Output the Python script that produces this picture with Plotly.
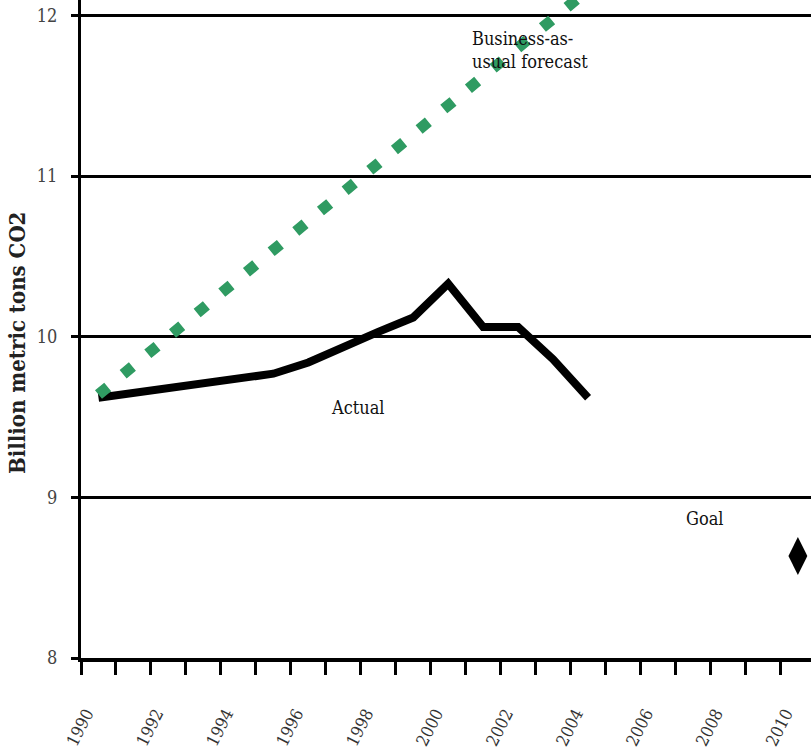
import plotly.graph_objects as go

# ---- data ----
actual_years = [1990, 1991, 1992, 1993, 1994, 1995, 1996, 1997, 1998, 1999,
                2000, 2001, 2002, 2003, 2004]
actual_values = [9.62, 9.65, 9.67, 9.71, 9.73, 9.77, 9.84, 9.94, 10.03, 10.12,
                 10.33, 10.06, 10.06, 9.86, 9.62]

forecast_years = [1990, 1991, 1992, 1993, 1994, 1995, 1996, 1997, 1998, 1999,
                  2000, 2001, 2002, 2003, 2004]
forecast_values = [9.64, 9.82, 10.00, 10.18, 10.36, 10.54, 10.72, 10.90, 11.08,
                   11.26, 11.44, 11.62, 11.80, 11.98, 12.16]

goal_years = [2010]
goal_values = [8.635]

x_tick_labels = ["1990", "1992", "1994", "1996", "1998", "2000",
                 "2002", "2004", "2006", "2008", "2010"]
x_tick_vals = [int(s) for s in x_tick_labels]
y_tick_vals = [8, 9, 10, 11, 12]

SERIF = "DejaVu Serif Condensed, Liberation Serif, serif"
GREEN = "#2f9b62"

fig = go.Figure()

fig.add_trace(go.Scatter(
    x=actual_years, y=actual_values, mode="lines",
    line=dict(color="black", width=8),
    showlegend=False, hoverinfo="skip",
))
fig.add_trace(go.Scatter(
    x=forecast_years, y=forecast_values, mode="lines",
    line=dict(color=GREEN, width=11, dash="12px,20px"),
    showlegend=False, hoverinfo="skip",
))
fig.add_trace(go.Scatter(
    x=goal_years, y=goal_values, mode="markers",
    marker=dict(symbol="diamond-tall", size=27, color="black"),
    showlegend=False, hoverinfo="skip", cliponaxis=False,
))

fig.add_annotation(x=2000.63, y=11.785, xref="x", yref="y",
                   text="Business-as-<br>usual forecast", showarrow=False,
                   xanchor="left", yanchor="middle", align="left",
                   font=dict(family=SERIF, size=18, color="#111"))
fig.add_annotation(x=1997.43, y=9.562, xref="x", yref="y",
                   text="Actual", showarrow=False,
                   font=dict(family=SERIF, size=18, color="#111"))
fig.add_annotation(x=2007.35, y=8.871, xref="x", yref="y",
                   text="Goal", showarrow=False,
                   font=dict(family=SERIF, size=18, color="#111"))
fig.add_annotation(x=-0.0877, y=0.4787, xref="paper", yref="paper",
                   xanchor="center", yanchor="middle",
                   text="<b>Billion metric tons CO2</b>", showarrow=False,
                   textangle=-90,
                   font=dict(family=SERIF, size=22, color="#222"))

fig.update_layout(
    width=811, height=751,
    margin=dict(l=81, r=0, t=0, b=93, pad=0),
    paper_bgcolor="white", plot_bgcolor="white",
    showlegend=False,
)
fig.update_xaxes(
    range=[1989.5, 2010.375],
    tickmode="array", tickvals=x_tick_vals, ticktext=x_tick_labels,
    ticks="", tickangle=-63,
    tickfont=dict(family=SERIF, size=17, color="#333"),
    ticklabelstandoff=35, ticklabelshift=-12,
    showgrid=False, zeroline=False,
    showline=True, linecolor="black", linewidth=4,
    minor=dict(ticks="outside", tick0=1989.5, dtick=1, ticklen=13,
               tickwidth=3, tickcolor="black", showgrid=False),
)
fig.update_yaxes(
    range=[8, 12.0965],
    tickmode="array", tickvals=y_tick_vals,
    ticks="outside", ticklen=7, tickwidth=3, tickcolor="black",
    tickfont=dict(family=SERIF, size=18, color="#444"),
    ticklabelstandoff=10,
    showgrid=True, gridcolor="black", gridwidth=3,
    zeroline=False,
    showline=True, linecolor="black", linewidth=3,
)

fig.write_html(
    "out.html",
    config={"displayModeBar": False},
    post_script="document.body.style.margin='0';document.body.style.overflow='hidden';",
)
